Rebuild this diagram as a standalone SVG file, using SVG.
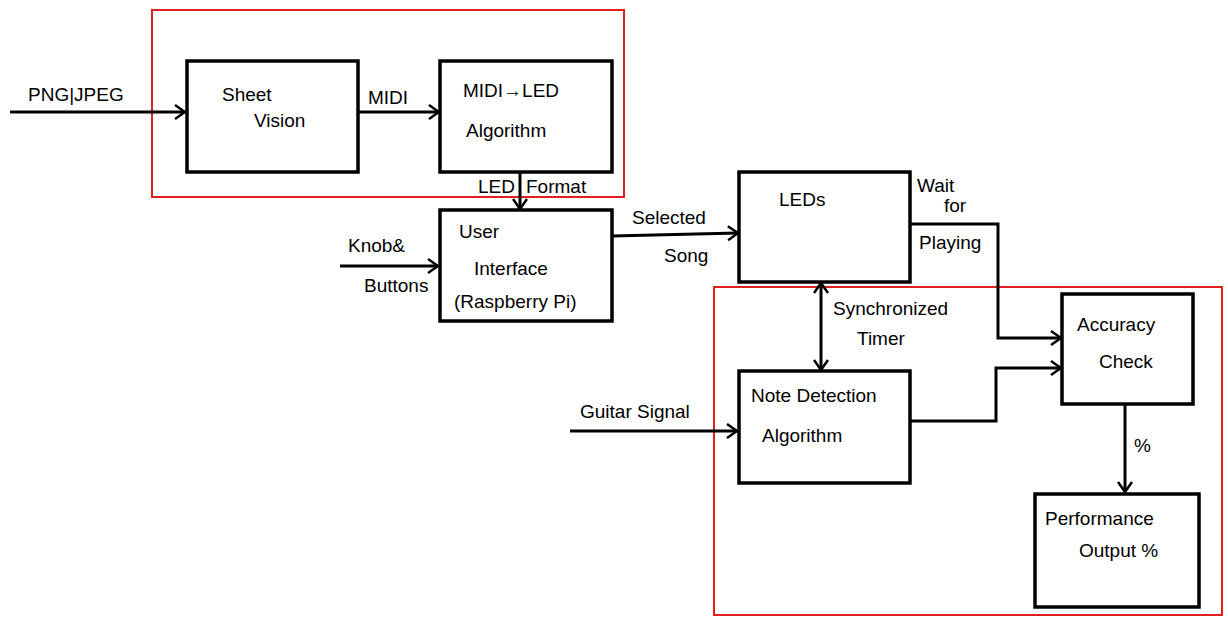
<svg xmlns="http://www.w3.org/2000/svg" width="1228" height="618" viewBox="0 0 1228 618">
<style>
.node{fill:#fff;stroke:#000;stroke-width:3.5}
.grp{fill:none;stroke:#e02020;stroke-width:2}
.edge{fill:none;stroke:#000;stroke-width:3}
text{font-family:"Liberation Sans",Arial,sans-serif;font-size:19px;fill:#000}
</style>
<defs>
<marker id="arr" viewBox="0 0 12 16" refX="11" refY="8" markerWidth="12" markerHeight="16" markerUnits="userSpaceOnUse" orient="auto-start-reverse">
<path d="M1,1 L11,8 L1,15" fill="none" stroke="#000" stroke-width="2.5"/>
</marker>
</defs>
<rect width="1228" height="618" fill="#fff"/>
<rect class="grp" x="152" y="10" width="472" height="187"/>
<rect class="grp" x="714" y="287" width="508" height="328"/>
<g id="connectors">
<line class="edge" x1="10" y1="112" x2="185" y2="112" marker-end="url(#arr)"/>
<text x="28" y="101">PNG|JPEG</text>
<line class="edge" x1="358" y1="112" x2="439" y2="112" marker-end="url(#arr)"/>
<text x="368" y="104">MIDI</text>
<line class="edge" x1="520" y1="172" x2="520" y2="209" marker-end="url(#arr)"/>
<text x="478" y="193" font-size="16">LED</text>
<text x="526" y="193" font-size="16">Format</text>
<line class="edge" x1="340" y1="266" x2="438" y2="266" marker-end="url(#arr)"/>
<text x="348" y="252" font-size="17">Knob&amp;</text>
<text x="364" y="292" font-size="17">Buttons</text>
<line class="edge" x1="612" y1="236" x2="738" y2="233" marker-end="url(#arr)"/>
<text x="632" y="224" font-size="17">Selected</text>
<text x="664" y="262">Song</text>
<polyline class="edge" points="910,224 998,224 998,338 1061,338" marker-end="url(#arr)"/>
<text x="917" y="192" font-size="16">Wait</text>
<text x="944" y="212" font-size="16">for</text>
<text x="919" y="249" font-size="16">Playing</text>
<line class="edge" x1="821" y1="283" x2="821" y2="370" marker-start="url(#arr)" marker-end="url(#arr)"/>
<text x="833" y="315" font-size="17">Synchronized</text>
<text x="857" y="345" font-size="17">Timer</text>
<line class="edge" x1="570" y1="431" x2="737" y2="431" marker-end="url(#arr)"/>
<text x="580" y="418">Guitar Signal</text>
<polyline class="edge" points="910,421 996,421 996,368 1061,368" marker-end="url(#arr)"/>
<line class="edge" x1="1125" y1="404" x2="1125" y2="492" marker-end="url(#arr)"/>
<text x="1134" y="452" font-size="24">%</text>
</g>
<g id="sheet-vision">
<rect class="node" x="187" y="61" width="171" height="111"/>
<text x="222" y="101" font-size="21">Sheet</text>
<text x="254" y="127" font-size="21">Vision</text>
</g>
<g id="midi-led">
<rect class="node" x="440" y="61" width="172" height="111"/>
<text x="463" y="97">MIDI→LED</text>
<text x="466" y="137" font-size="20">Algorithm</text>
</g>
<g id="user-interface">
<rect class="node" x="440" y="210" width="172" height="111"/>
<text x="459" y="238" font-size="21">User</text>
<text x="474" y="275" font-size="21">Interface</text>
<text x="454" y="308">(Raspberry Pi)</text>
</g>
<g id="leds">
<rect class="node" x="739" y="172" width="171" height="110"/>
<text x="779" y="206" font-size="21">LEDs</text>
</g>
<g id="note-detection">
<rect class="node" x="739" y="371" width="171" height="112"/>
<text x="751" y="402">Note Detection</text>
<text x="762" y="442">Algorithm</text>
</g>
<g id="accuracy-check">
<rect class="node" x="1062" y="294" width="131" height="110"/>
<text x="1077" y="331">Accuracy</text>
<text x="1099" y="368">Check</text>
</g>
<g id="performance-output">
<rect class="node" x="1035" y="494" width="164" height="113"/>
<text x="1045" y="525">Performance</text>
<text x="1079" y="557">Output %</text>
</g>
</svg>
